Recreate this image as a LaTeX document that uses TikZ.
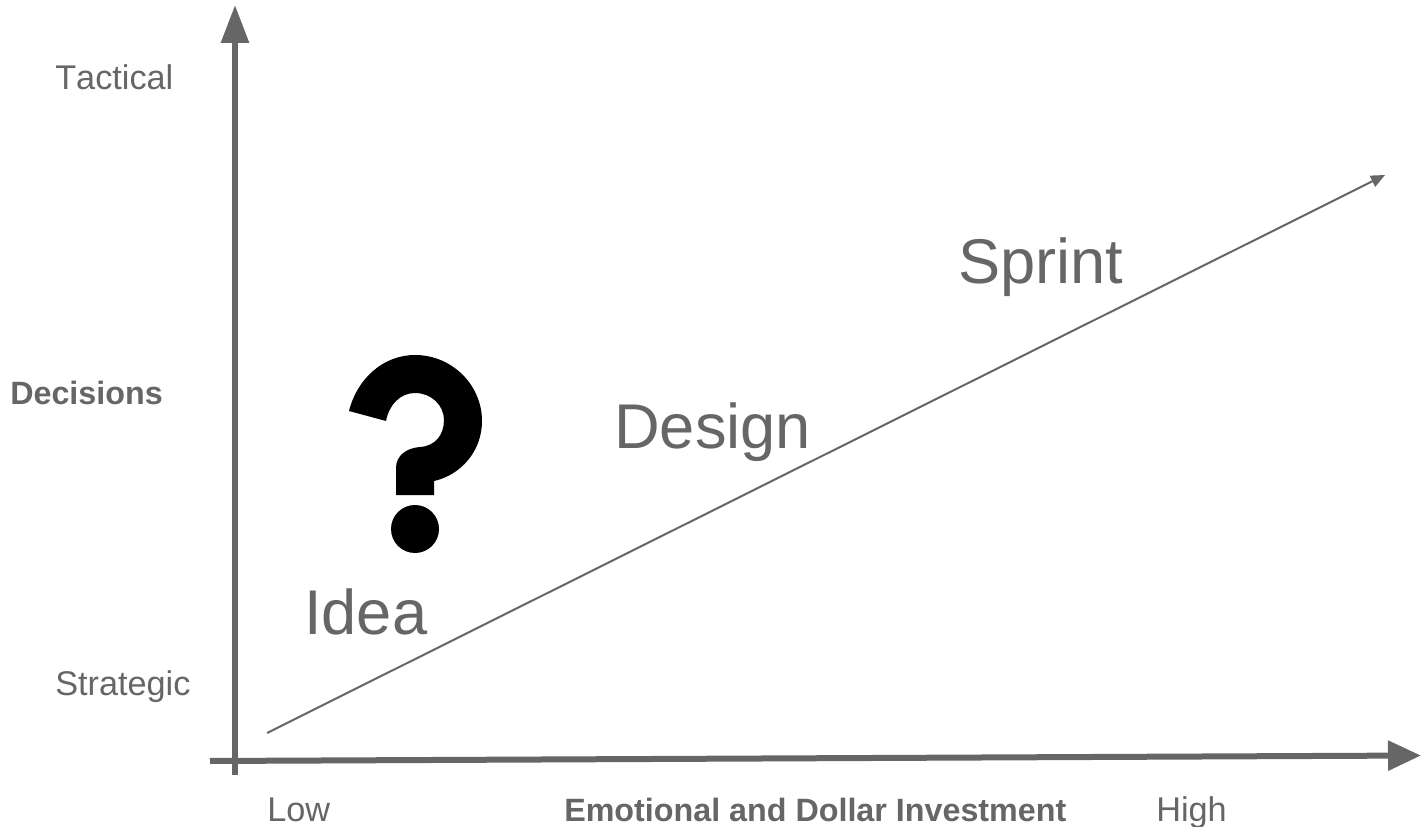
\documentclass[tikz,border=0pt]{standalone}
\usepackage{fontspec}
\setmainfont{Liberation Sans}[Kerning=Off]
\usepackage{tikz}
\usetikzlibrary{arrows.meta}
\definecolor{axisclr}{HTML}{666666}
\tikzset{ %
  ,x=0.75pt,y=-0.75pt
  ,every node/.style={inner sep=0, text=axisclr}
  ,axisv/.style={draw=axisclr, line width=4.5pt, -{Triangle[length=28.5pt, width=20.25pt]}}
  ,axish/.style={draw=axisclr, line width=4.5pt, -{Triangle[length=24.75pt, width=21.75pt]}}
  ,trend/.style={draw=axisclr, line width=1.5pt, -{Triangle[length=10.5pt, width=9pt]}}
  ,lbl/.style={anchor=base west, font=\fontsize{25.7}{30}\selectfont}
  ,dec/.style={anchor=base west, font=\fontsize{24.2}{28}\selectfont\bfseries}
  ,stage/.style={anchor=base west, font=\fontsize{47.4}{56}\selectfont}
}
\begin{document}
\begin{tikzpicture}
  \useasboundingbox (0,0) rectangle (1421,827);
  \coordinate (ybot) at (235,775);
  \coordinate (ytop) at (235,5);
  \coordinate (xleft) at (210,761);
  \coordinate (xright) at (1421,755.5);
  \coordinate (tstart) at (267,733);
  \coordinate (tend) at (1385,175);
  \draw[axisv] (ybot) -- (ytop);
  \draw[axish] (xleft) -- (xright);
  \draw[trend] (tstart) -- (tend);
  \draw
  node[lbl] (tactical) at (55,90) {Tactical}
  node[lbl] (strategic) at (55,695) {Strategic}
  node[lbl] (low) at (267,821) {Low}
  node[lbl] (high) at (1156,821) {High}
  node[dec] (decisions) at (10,404) {Decisions}
  node[dec] (invest) at (564,821) {Emotional and Dollar Investment}
  node[stage] (idea) at (304,634) {Idea}
  node[stage] (design) at (614,448) {Design}
  node[stage] (sprint) at (958,284) {Sprint};
  % question mark
  \fill[black] (349,411) .. controls (357,379) and (383,355) .. (415,355)
    .. controls (452,355) and (482,385) .. (482,421)
    .. controls (482,451) and (461,475) .. (434,481)
    -- (434,495) -- (396,495) -- (396,468)
    .. controls (396,456) and (406,448) .. (420,447)
    .. controls (436,446) and (444,434) .. (444,420)
    .. controls (444,405) and (431,393) .. (415,393)
    .. controls (400,393) and (389,405) .. (386,421) -- cycle;
  \fill[black] (415,529) circle[radius=24];
\end{tikzpicture}
\end{document}
